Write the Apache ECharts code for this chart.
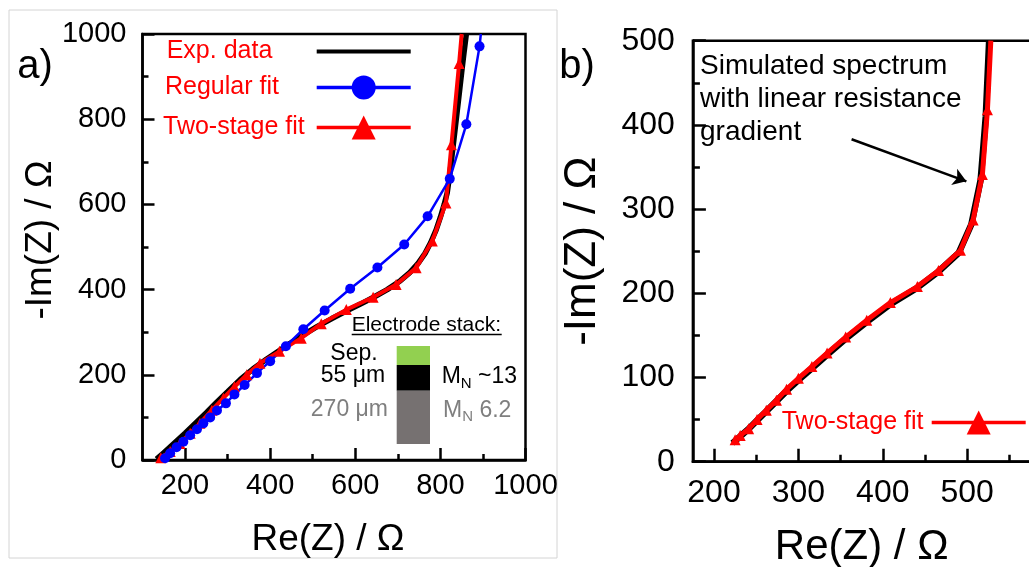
<!DOCTYPE html>
<html>
<head>
<meta charset="utf-8">
<script src="https://cdn.jsdelivr.net/npm/echarts@6/dist/echarts.min.js"></script>
<style>
  html, body { margin: 0; padding: 0; background: #fff; }
  #chart { width: 1029px; height: 567px; }
</style>
</head>
<body>
<div id="chart"></div>
<script>
// Panel a) measured spectrum and the two fits, [Re(Z), -Im(Z)] in ohm
const expData = [[133,2],[150,17],[175,40],[200,63],[225,87],[250,111],[275,136],[300,160],[330,189],[360,214],[392,237],[420,256],[447,274],[480,295],[510,313],[545,332],[580,350],[612,366],[643,382],[675,400],[706,421],[728,440],[748,462],[764,485],[777,510],[790,540],[800,570],[809,600],[816,627],[822,670],[828,720],[835,780],[842,840],[850,910],[856,960],[861,1000]];
const twoStageA = [[143,5],[165,20],[188,39],[212,63],[235,86],[263,117],[290,145],[316,172],[345,200],[376,227],[422,255],[473,286],[520,320],[579,353],[642,382],[696,412],[743,451],[781,514],[813,603],[826,740],[844,931],[850,1000]];
const regularFit = [[153,4],[165,16],[180,30],[196,43],[212,58],[228,72],[243,86],[259,100],[275,116],[296,133],[316,154],[340,176],[369,204],[400,232],[437,267],[478,307],[528,351],[588,402],[652,452],[715,506],[770,572],[822,660],[861,788],[892,971],[895,1000]];

// Panel b) simulated spectrum with a linear resistance gradient and its two-stage fit
const simData = [[222,22],[230,29],[240,38],[250,48],[262,60],[274,72],[287,85],[300,97],[316,111],[334,127],[356,146],[381,166],[409,187],[440,206],[465,225],[490,248],[505,282],[516,335],[522,410],[526,500]];
const twoStageB = [[225,26],[231,31],[241,39],[251,50],[262,61],[274,73],[286,86],[300,99],[316,113],[334,129],[356,148],[381,168],[409,189],[441,208],[466,227],[492,251],[507,287],[518,341],[524,418],[528,500]];

// Tick positions
const ticksAMajor = [200, 400, 600, 800, 1000];
const ticksAMinor = [300, 500, 700, 900];
const ticksBMajor = [200, 300, 400, 500];
const ticksBMinor = [250, 350, 450, 550];

// Arrow pointing at the simulated curve
const arrowFrom = [363, 383];
const arrowTo = [499, 333];

const FONT = '"Liberation Sans", Arial, sans-serif';
const RED = '#ff0000';
const BLUE = '#0000ff';

// The last point of each curve sits on the top frame: draw line only, no marker
function endOpen(arr) {
  return arr.map((p, i) => i === arr.length - 1 ? { value: p, symbol: 'none' } : p);
}
const plain = v => String(v);

const chart = echarts.init(document.getElementById('chart'), null, { renderer: 'canvas' });

const axisLine = { onZero: false, lineStyle: { color: '#000', width: 2.5 } };
const tickLine = { color: '#000', width: 2.5 };

function legendItem(name, left, top, textW, lineW, hideMarker) {
  const lg = {
    data: [name], left: left, top: top, orient: 'vertical', align: 'right',
    itemWidth: 94, itemHeight: 30, padding: 0, itemGap: 0, selectedMode: false,
    lineStyle: { width: lineW },
    formatter: n => '{t|' + n + '}',
    textStyle: {
      color: RED, fontSize: 25, fontFamily: FONT,
      rich: { t: { width: textW, align: 'left', color: RED, fontSize: 25, fontFamily: FONT } }
    }
  };
  if (hideMarker) lg.itemStyle = { color: 'rgba(0,0,0,0)', borderWidth: 0, opacity: 0 };
  return lg;
}

const option = {
  animation: false,
  backgroundColor: '#fff',
  textStyle: { fontFamily: FONT },
  grid: [
    { left: 142.5, top: 34, width: 383, height: 426, show: true, borderColor: '#000', borderWidth: 2.5, outerBoundsMode: 'none' },
    { left: 692.9, top: 40.7, width: 337.6, height: 421, show: true, borderColor: '#000', borderWidth: 2.5, outerBoundsMode: 'none' }
  ],
  xAxis: [
    {
      gridIndex: 0, type: 'value', min: 100, max: 1000, position: 'bottom',
      axisLine: axisLine,
      axisTick: { inside: true, length: 12, lineStyle: tickLine, customValues: ticksAMajor },
      axisLabel: { customValues: ticksAMajor, formatter: plain, margin: 11, fontSize: 29, color: '#000', fontFamily: FONT },
      splitLine: { show: false },
      name: 'Re(Z) / Ω', nameLocation: 'middle', nameGap: 61, nameMoveOverlap: false,
      nameTextStyle: { fontSize: 37, color: '#000', fontFamily: FONT, padding: [0, 12, 0, 0] }
    },
    {
      gridIndex: 0, type: 'value', min: 100, max: 1000, position: 'bottom',
      axisLine: { show: false, onZero: false },
      axisTick: { inside: true, length: 6, lineStyle: tickLine, customValues: ticksAMinor },
      axisLabel: { show: false }, splitLine: { show: false }
    },
    {
      gridIndex: 1, type: 'value', min: 175, max: 575, position: 'bottom',
      axisLine: axisLine,
      axisTick: { inside: true, length: 13, lineStyle: tickLine, customValues: ticksBMajor },
      axisLabel: { customValues: ticksBMajor, formatter: plain, margin: 15, fontSize: 32, color: '#000', fontFamily: FONT },
      splitLine: { show: false },
      name: 'Re(Z) / Ω', nameLocation: 'middle', nameGap: 65, nameMoveOverlap: false,
      nameTextStyle: { fontSize: 42, color: '#000', fontFamily: FONT }
    },
    {
      gridIndex: 1, type: 'value', min: 175, max: 575, position: 'bottom',
      axisLine: { show: false, onZero: false },
      axisTick: { inside: true, length: 7, lineStyle: tickLine, customValues: ticksBMinor },
      axisLabel: { show: false }, splitLine: { show: false }
    }
  ],
  yAxis: [
    {
      gridIndex: 0, type: 'value', min: 0, max: 1000, interval: 200,
      axisLine: axisLine,
      axisTick: { inside: true, length: 12, lineStyle: tickLine },
      minorTick: { show: true, splitNumber: 2, length: 6, lineStyle: tickLine },
      axisLabel: { formatter: plain, margin: 16, fontSize: 29, color: '#000', fontFamily: FONT },
      splitLine: { show: false },
      name: '-Im(Z) / Ω', nameLocation: 'middle', nameGap: 83, nameRotate: 90, nameMoveOverlap: false,
      nameTextStyle: { fontSize: 37, color: '#000', fontFamily: FONT, padding: [0, 0, 0, 14] }
    },
    {
      gridIndex: 1, type: 'value', min: 0, max: 500, interval: 100,
      axisLine: axisLine,
      axisTick: { inside: true, length: 13, lineStyle: tickLine },
      minorTick: { show: true, splitNumber: 2, length: 7, lineStyle: tickLine },
      axisLabel: { formatter: plain, margin: 18, fontSize: 32, color: '#000', fontFamily: FONT },
      splitLine: { show: false },
      name: '-Im(Z) / Ω', nameLocation: 'middle', nameGap: 88, nameRotate: 90, nameMoveOverlap: false,
      nameTextStyle: { fontSize: 44, color: '#000', fontFamily: FONT }
    }
  ],
  legend: [
    legendItem('Exp. data', 166.7, 39, 145, 4, true),
    legendItem('Regular fit', 165, 75, 146.7, 3.5),
    legendItem('Two-stage fit', 163, 115, 148.7, 3.5),
    legendItem('Two-stage fit', 781.7, 410, 145, 3.5)
  ],
  series: [
    {
      name: 'Exp. data', type: 'line', xAxisIndex: 0, yAxisIndex: 0,
      data: expData, symbol: 'none', smooth: false,
      lineStyle: { color: '#000', width: 5.5 }, itemStyle: { color: '#000' }
    },
    {
      name: 'Two-stage fit', type: 'line', xAxisIndex: 0, yAxisIndex: 0,
      data: endOpen(twoStageA), symbol: 'triangle', symbolSize: 11,
      lineStyle: { color: RED, width: 4 }, itemStyle: { color: RED }
    },
    {
      name: 'Regular fit', type: 'line', xAxisIndex: 0, yAxisIndex: 0,
      data: endOpen(regularFit), symbol: 'circle', symbolSize: 10,
      lineStyle: { color: BLUE, width: 2.5 }, itemStyle: { color: BLUE }
    },
    {
      name: 'Simulated spectrum', type: 'line', xAxisIndex: 2, yAxisIndex: 1,
      data: simData, symbol: 'none',
      lineStyle: { color: '#000', width: 6.5 }, itemStyle: { color: '#000' },
      markLine: {
        silent: true, symbol: ['none', 'arrow'], symbolSize: 13,
        label: { show: false },
        lineStyle: { color: '#000', width: 2.5, type: 'solid' },
        data: [[{ coord: arrowFrom }, { coord: arrowTo }]]
      }
    },
    {
      name: 'Two-stage fit', type: 'line', xAxisIndex: 2, yAxisIndex: 1,
      data: endOpen(twoStageB), symbol: 'triangle', symbolSize: 11,
      lineStyle: { color: RED, width: 5 }, itemStyle: { color: RED }
    }
  ],
  graphic: [
    // light frame around panel a)
    { type: 'rect', z: -10, shape: { x: 9, y: 10, width: 548, height: 548 }, style: { fill: 'none', stroke: '#d4d4d4', lineWidth: 1 } },
    { type: 'text', x: 35, y: 67, style: { text: 'a)', font: '40px ' + FONT, fill: '#000', align: 'center', verticalAlign: 'middle' } },
    { type: 'text', x: 577, y: 67, style: { text: 'b)', font: '40px ' + FONT, fill: '#000', align: 'center', verticalAlign: 'middle' } },
    // electrode stack sketch
    { type: 'text', x: 351.7, y: 325.5, style: { text: 'Electrode stack:', font: '21px ' + FONT, fill: '#000', align: 'left', verticalAlign: 'middle' } },
    { type: 'line', shape: { x1: 351.7, y1: 334.5, x2: 501.7, y2: 334.5 }, style: { stroke: '#000', lineWidth: 1.5 } },
    { type: 'rect', shape: { x: 396.7, y: 346, width: 33.3, height: 19 }, style: { fill: '#92d050' } },
    { type: 'rect', shape: { x: 396.7, y: 365, width: 33.3, height: 25.7 }, style: { fill: '#000' } },
    { type: 'rect', shape: { x: 396.7, y: 390.7, width: 33.3, height: 53.3 }, style: { fill: '#767171' } },
    { type: 'text', x: 354, y: 354, style: { text: 'Sep.', font: '23px ' + FONT, fill: '#000', align: 'center', verticalAlign: 'middle' } },
    { type: 'text', x: 353, y: 376, style: { text: '55 μm', font: '23px ' + FONT, fill: '#000', align: 'center', verticalAlign: 'middle' } },
    { type: 'text', x: 388, y: 410, style: { text: '270 μm', font: '23px ' + FONT, fill: '#7f7f7f', align: 'right', verticalAlign: 'middle' } },
    {
      type: 'text', x: 441.7, y: 377, style: {
        text: '{m|M}{s|N}{m| ~13}', align: 'left', verticalAlign: 'middle',
        rich: {
          m: { font: '23px ' + FONT, fill: '#000', lineHeight: 28 },
          s: { font: '15px ' + FONT, fill: '#000', lineHeight: 15, verticalAlign: 'bottom' }
        }
      }
    },
    {
      type: 'text', x: 443, y: 410.5, style: {
        text: '{m|M}{s|N}{m| 6.2}', align: 'left', verticalAlign: 'middle',
        rich: {
          m: { font: '23px ' + FONT, fill: '#7f7f7f', lineHeight: 28 },
          s: { font: '15px ' + FONT, fill: '#7f7f7f', lineHeight: 15, verticalAlign: 'bottom' }
        }
      }
    },
    // annotation of panel b)
    { type: 'text', x: 700, y: 66, style: { text: 'Simulated spectrum', font: '28px ' + FONT, fill: '#000', align: 'left', verticalAlign: 'middle' } },
    { type: 'text', x: 700, y: 99, style: { text: 'with linear resistance', font: '28px ' + FONT, fill: '#000', align: 'left', verticalAlign: 'middle' } },
    { type: 'text', x: 700, y: 132, style: { text: 'gradient', font: '28px ' + FONT, fill: '#000', align: 'left', verticalAlign: 'middle' } }
  ]
};

chart.setOption(option);
</script>
</body>
</html>
